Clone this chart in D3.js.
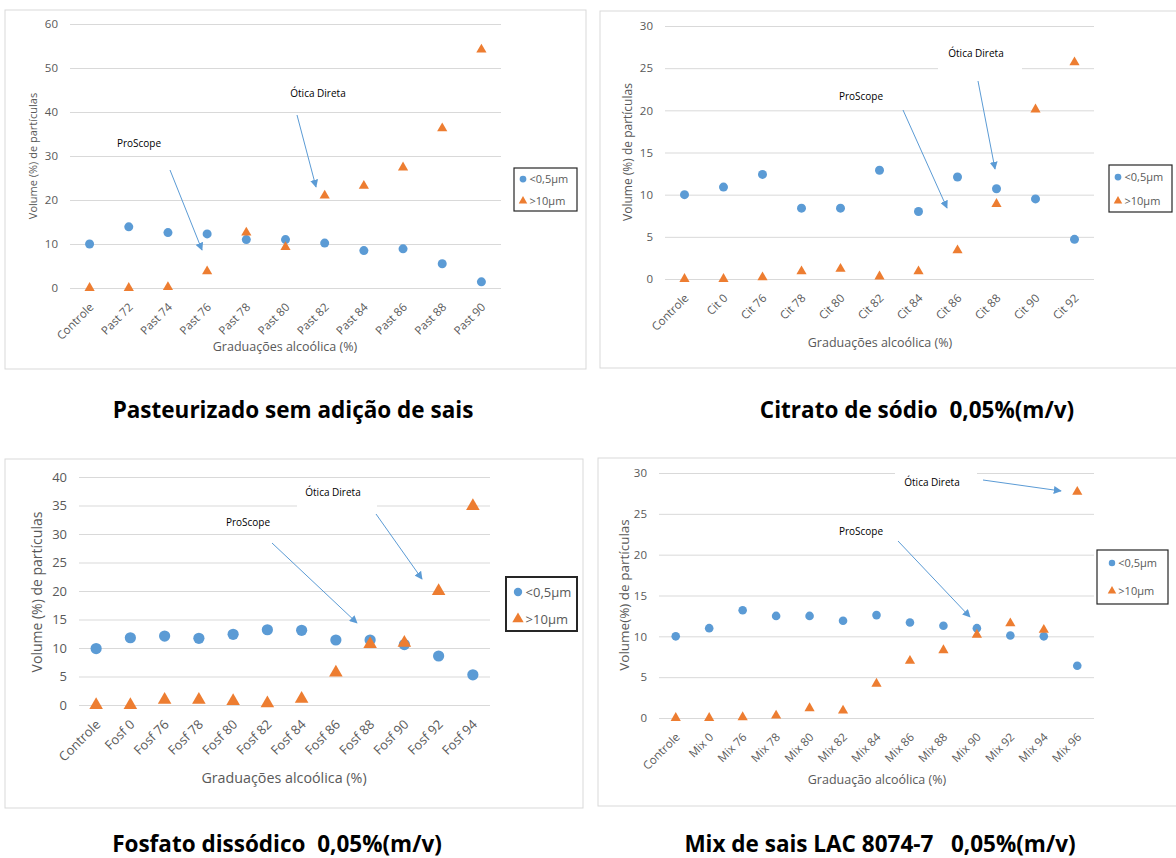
<!DOCTYPE html>
<html>
<head>
<meta charset="utf-8">
<script src="https://cdn.jsdelivr.net/npm/d3@7"></script>
<style>
  body { margin: 0; background: #fff; }
  svg { display: block; font-family: "Open Sans", sans-serif; }
</style>
</head>
<body>
<svg id="chart"></svg>
<script>
// Dati: categorie e valori
const cats1 = ["Controle", "Past 72", "Past 74", "Past 76", "Past 78", "Past 80", "Past 82", "Past 84", "Past 86", "Past 88", "Past 90"];
const small1 = [10.0, 13.9, 12.6, 12.3, 11.0, 11.0, 10.2, 8.5, 8.9, 5.5, 1.4];
const large1 = [0, 0, 0.2, 3.8, 12.6, 9.3, 21.0, 23.2, 27.4, 36.3, 54.2];
const ticks1 = [0, 10, 20, 30, 40, 50, 60];

const cats2 = ["Controle", "Cit 0", "Cit 76", "Cit 78", "Cit 80", "Cit 82", "Cit 84", "Cit 86", "Cit 88", "Cit 90", "Cit 92"];
const small2 = [10.0, 10.9, 12.4, 8.4, 8.4, 12.9, 8.0, 12.1, 10.7, 9.5, 4.7];
const large2 = [0, 0, 0.2, 0.9, 1.2, 0.3, 0.9, 3.4, 8.9, 20.1, 25.7];
const ticks2 = [0, 5, 10, 15, 20, 25, 30];

const cats3 = ["Controle", "Fosf 0", "Fosf 76", "Fosf 78", "Fosf 80", "Fosf 82", "Fosf 84", "Fosf 86", "Fosf 88", "Fosf 90", "Fosf 92", "Fosf 94"];
const small3 = [9.9, 11.8, 12.1, 11.7, 12.4, 13.2, 13.1, 11.4, 11.4, 10.6, 8.6, 5.3];
const large3 = [0, 0, 0.9, 0.9, 0.7, 0.3, 1.1, 5.7, 10.7, 10.9, 20.0, 34.9];
const ticks3 = [0, 5, 10, 15, 20, 25, 30, 35, 40];

const cats4 = ["Controle", "Mix 0", "Mix 76", "Mix 78", "Mix 80", "Mix 82", "Mix 84", "Mix 86", "Mix 88", "Mix 90", "Mix 92", "Mix 94", "Mix 96"];
const small4 = [10.0, 11.0, 13.2, 12.5, 12.5, 11.9, 12.6, 11.7, 11.3, 11.0, 10.1, 10.0, 6.4];
const large4 = [0, 0, 0.1, 0.3, 1.2, 0.9, 4.2, 7.0, 8.3, 10.2, 11.6, 10.8, 27.7];
const ticks4 = [0, 5, 10, 15, 20, 25, 30];

const seriesNames = ["<0,5µm", ">10µm"];
const blue = "#5B9BD5";
const orange = "#ED7D31";
const grey = "#595959";

// Impaginazione dei quattro pannelli
const panels = [
  {
    cats: cats1, small: small1, large: large1, ticks: ticks1,
    frame: [5, 10, 581, 359], plot: { left: 70, right: 501, top: 24, bottom: 288 },
    font: 11.5, r: 4.5, tri: 45,
    yTitle: "Volume (%) de partículas", yTitleX: 33, yTitleY: 156, yTitleFont: 11,
    xTitle: "Graduações alcoólica (%)", xTitleX: 285, xTitleY: 351, xTitleFont: 12.5,
    legend: { x: 514, y: 168, w: 63, h: 43, rows: [179, 201], stroke: 1.2, font: 11, mx: 523 },
    title: "Pasteurizado sem adição de sais", titleX: 293, titleY: 418,
    notes: [
      { text: "ProScope", x: 139, y: 147, from: [170, 170], to: [202, 250] },
      { text: "Ótica Direta", x: 318, y: 97, from: [297, 115], to: [316, 187] }
    ]
  },
  {
    cats: cats2, small: small2, large: large2, ticks: ticks2,
    frame: [600, 11, 600, 357], plot: { left: 665, right: 1094, top: 26, bottom: 279 },
    font: 11.5, r: 4.5, tri: 45,
    yTitle: "Volume (%) de partículas", yTitleX: 628, yTitleY: 152, yTitleFont: 12,
    xTitle: "Graduações alcoólica (%)", xTitleX: 880, xTitleY: 347, xTitleFont: 12.5,
    legend: { x: 1109, y: 165, w: 63, h: 47, rows: [177, 201], stroke: 1.2, font: 11, mx: 1118 },
    title: "Citrato de sódio  0,05%(m/v)", titleX: 917, titleY: 418,
    notes: [
      { text: "ProScope", x: 861, y: 100, from: [903, 110], to: [947, 208] },
      { text: "Ótica Direta", x: 976, y: 57, from: [978, 81], to: [995, 169], cover: [938, 40, 84, 32] }
    ]
  },
  {
    cats: cats3, small: small3, large: large3, ticks: ticks3,
    frame: [5, 459, 578, 349], plot: { left: 79, right: 490, top: 477, bottom: 705 },
    font: 13, r: 5.6, tri: 80,
    yTitle: "Volume (%) de partículas", yTitleX: 37, yTitleY: 592, yTitleFont: 14,
    xTitle: "Graduações alcoólica (%)", xTitleX: 284, xTitleY: 783, xTitleFont: 14.3,
    legend: { x: 506, y: 577, w: 71, h: 54, rows: [592, 619], stroke: 2, font: 13, mx: 518 },
    title: "Fosfato dissódico  0,05%(m/v)", titleX: 277, titleY: 852,
    notes: [
      { text: "ProScope", x: 248, y: 526, from: [272, 543], to: [357, 623] },
      { text: "Ótica Direta", x: 333, y: 496, from: [376, 514], to: [422, 579], cover: [297, 482, 80, 30] }
    ]
  },
  {
    cats: cats4, small: small4, large: large4, ticks: ticks4,
    frame: [598, 458, 600, 348], plot: { left: 659, right: 1094, top: 473, bottom: 718 },
    font: 11.5, r: 4.3, tri: 45,
    yTitle: "Volume(%) de partículas", yTitleX: 624, yTitleY: 595, yTitleFont: 13.5,
    xTitle: "Graduação alcoólica (%)", xTitleX: 877, xTitleY: 784, xTitleFont: 12.5,
    legend: { x: 1097, y: 550, w: 71, h: 54, rows: [563, 591], stroke: 1.2, font: 11, mx: 1112 },
    title: "Mix de sais LAC 8074-7   0,05%(m/v)", titleX: 880, titleY: 852,
    notes: [
      { text: "ProScope", x: 861, y: 535, from: [898, 541], to: [970, 617] },
      { text: "Ótica Direta", x: 932, y: 486, from: [983, 480], to: [1061, 491], cover: [895, 465, 82, 12] }
    ]
  }
];

const svg = d3.select("#chart")
  .attr("width", 1176)
  .attr("height", 858);

// Punta della freccia
svg.append("defs").append("marker")
  .attr("id", "arrow")
  .attr("viewBox", "0 0 10 10")
  .attr("refX", 9)
  .attr("refY", 5)
  .attr("markerUnits", "userSpaceOnUse")
  .attr("markerWidth", 8)
  .attr("markerHeight", 8)
  .attr("orient", "auto")
  .append("path")
  .attr("d", "M0,0 L10,5 L0,10 z")
  .attr("fill", blue);

panels.forEach(p => {
  const g = svg.append("g");

  // Cornice del grafico
  g.append("rect")
    .attr("x", p.frame[0]).attr("y", p.frame[1])
    .attr("width", p.frame[2]).attr("height", p.frame[3])
    .attr("fill", "#fff")
    .attr("stroke", "#d9d9d9");

  const x = d3.scaleBand()
    .domain(p.cats)
    .range([p.plot.left, p.plot.right]);

  const y = d3.scaleLinear()
    .domain([0, d3.max(p.ticks)])
    .range([p.plot.bottom, p.plot.top]);

  // Asse Y con griglia
  const yAxis = g.append("g")
    .attr("transform", `translate(${p.plot.left},0)`)
    .call(d3.axisLeft(y).tickValues(p.ticks).tickSize(-(p.plot.right - p.plot.left)).tickPadding(12));
  yAxis.select(".domain").remove();
  yAxis.selectAll("line").attr("stroke", "#d9d9d9");
  yAxis.selectAll("text")
    .attr("fill", grey)
    .style("font-size", p.font + "px")
    .style("font-family", "Open Sans");

  // Asse X con etichette ruotate
  const xAxis = g.append("g")
    .attr("transform", `translate(0,${p.plot.bottom})`)
    .call(d3.axisBottom(x).tickSize(0));
  xAxis.select(".domain").remove();
  xAxis.selectAll("text")
    .attr("y", 0).attr("x", 0).attr("dy", "0.35em")
    .attr("transform", "translate(2,17) rotate(-45)")
    .attr("text-anchor", "end")
    .attr("fill", grey)
    .style("font-size", p.font + "px")
    .style("font-family", "Open Sans");

  // Titoli degli assi
  g.append("text")
    .attr("transform", `translate(${p.yTitleX},${p.yTitleY}) rotate(-90)`)
    .attr("text-anchor", "middle")
    .attr("dy", "0.35em")
    .attr("fill", grey)
    .style("font-size", p.yTitleFont + "px")
    .text(p.yTitle);

  g.append("text")
    .attr("x", p.xTitleX).attr("y", p.xTitleY)
    .attr("text-anchor", "middle")
    .attr("fill", grey)
    .style("font-size", p.xTitleFont + "px")
    .text(p.xTitle);

  // Caselle bianche dietro le note
  p.notes.filter(n => n.cover).forEach(n => {
    g.append("rect")
      .attr("x", n.cover[0]).attr("y", n.cover[1])
      .attr("width", n.cover[2]).attr("height", n.cover[3])
      .attr("fill", "#fff");
  });

  // Punti delle due serie
  const cx = d => x(d) + x.bandwidth() / 2;

  g.selectAll(".small")
    .data(p.cats)
    .enter().append("circle")
    .attr("cx", d => cx(d))
    .attr("cy", (d, i) => y(p.small[i]))
    .attr("r", p.r)
    .attr("fill", blue);

  g.selectAll(".large")
    .data(p.cats)
    .enter().append("path")
    .attr("d", d3.symbol(d3.symbolTriangle, p.tri))
    .attr("transform", (d, i) => `translate(${cx(d)},${y(p.large[i])})`)
    .attr("fill", orange);

  // Note con frecce
  p.notes.forEach(n => {
    g.append("text")
      .attr("x", n.x).attr("y", n.y)
      .attr("text-anchor", "middle")
      .attr("fill", "#000")
      .style("font-size", "10px")
      .text(n.text);
    g.append("line")
      .attr("x1", n.from[0]).attr("y1", n.from[1])
      .attr("x2", n.to[0]).attr("y2", n.to[1])
      .attr("stroke", blue)
      .attr("stroke-width", 1)
      .attr("marker-end", "url(#arrow)");
  });

  // Legenda
  const L = p.legend;
  g.append("rect")
    .attr("x", L.x).attr("y", L.y)
    .attr("width", L.w).attr("height", L.h)
    .attr("fill", "#fff")
    .attr("stroke", "#262626")
    .attr("stroke-width", L.stroke);

  g.append("circle")
    .attr("cx", L.mx).attr("cy", L.rows[0])
    .attr("r", p.r * 0.75)
    .attr("fill", blue);
  g.append("path")
    .attr("d", d3.symbol(d3.symbolTriangle, p.tri * 0.7))
    .attr("transform", `translate(${L.mx},${L.rows[1]})`)
    .attr("fill", orange);

  seriesNames.forEach((s, i) => {
    g.append("text")
      .attr("x", L.mx + p.r + 2).attr("y", L.rows[i])
      .attr("dy", "0.35em")
      .attr("fill", grey)
      .style("font-size", L.font + "px")
      .text(s);
  });

  // Titolo sotto il grafico
  svg.append("text")
    .attr("x", p.titleX).attr("y", p.titleY)
    .attr("text-anchor", "middle")
    .attr("fill", "#000")
    .attr("xml:space", "preserve")
    .style("white-space", "pre")
    .style("font-size", "22.5px")
    .style("font-weight", "bold")
    .text(p.title);
});
</script>
</body>
</html>
